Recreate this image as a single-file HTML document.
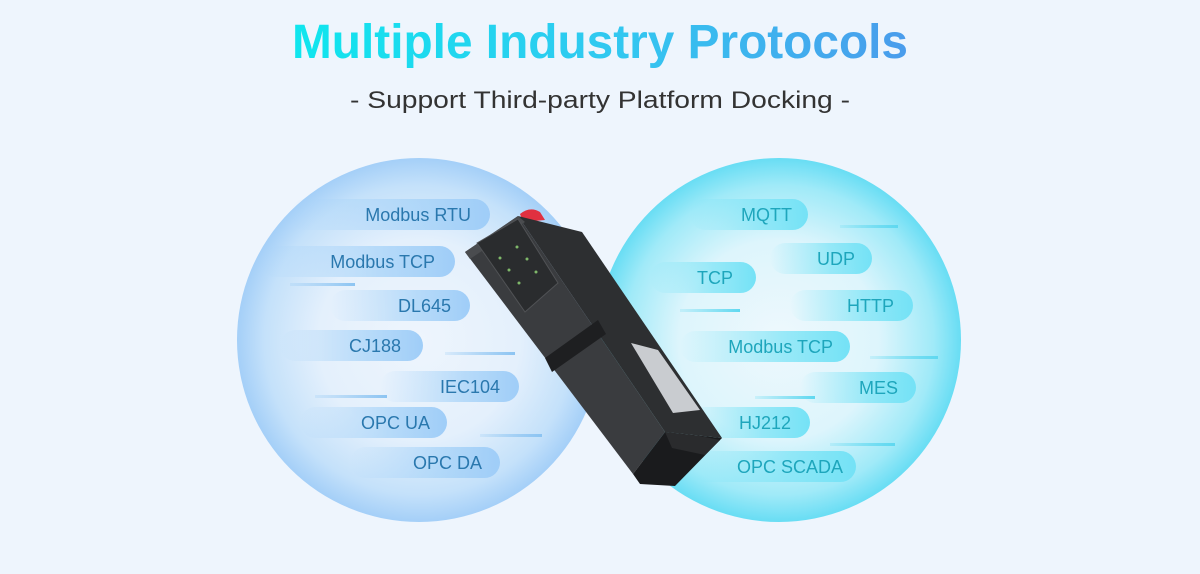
<!DOCTYPE html>
<html><head><meta charset="utf-8"><style>
html,body{margin:0;padding:0;background:#eef5fd;}
svg{display:block;font-family:"Liberation Sans",sans-serif;}
</style></head><body>
<svg width="1200" height="574" viewBox="0 0 1200 574" xmlns="http://www.w3.org/2000/svg">
<defs>
<linearGradient id="tg" x1="0" x2="1"><stop offset="0" stop-color="#0fe6ee"/><stop offset="0.55" stop-color="#33c6f0"/><stop offset="1" stop-color="#4a9cec"/></linearGradient>
<radialGradient id="lc" cx="0.5" cy="0.5" r="0.5"><stop offset="0" stop-color="#eef5fd"/><stop offset="0.55" stop-color="#e4f0fc"/><stop offset="0.85" stop-color="#c4e1fa"/><stop offset="1" stop-color="#a4cff8"/></radialGradient>
<radialGradient id="rc" cx="0.5" cy="0.5" r="0.5"><stop offset="0" stop-color="#eef8fd"/><stop offset="0.55" stop-color="#ddf5fc"/><stop offset="0.85" stop-color="#a0eaf8"/><stop offset="1" stop-color="#68ddf4"/></radialGradient>
<linearGradient id="lp" x1="0" x2="1"><stop offset="0" stop-color="#a7d3f8" stop-opacity="0"/><stop offset="0.6" stop-color="#a7d3f8" stop-opacity="0.75"/><stop offset="1" stop-color="#9fcdf8"/></linearGradient>
<linearGradient id="rp" x1="0" x2="1"><stop offset="0" stop-color="#7ee4f6" stop-opacity="0"/><stop offset="0.6" stop-color="#7ee4f6" stop-opacity="0.75"/><stop offset="1" stop-color="#74e2f6"/></linearGradient>
<linearGradient id="ll" x1="0" x2="1"><stop offset="0" stop-color="#8cc4f2" stop-opacity="0.2"/><stop offset="1" stop-color="#8cc4f2"/></linearGradient>
<linearGradient id="rl" x1="0" x2="1"><stop offset="0" stop-color="#5fd8f0" stop-opacity="0.2"/><stop offset="1" stop-color="#5fd8f0"/></linearGradient>
</defs>
<text x="600" y="58" text-anchor="middle" font-size="48" font-weight="bold" fill="url(#tg)" textLength="616" lengthAdjust="spacingAndGlyphs">Multiple Industry Protocols</text>
<text x="600" y="108" text-anchor="middle" font-size="24" fill="#333" textLength="500" lengthAdjust="spacingAndGlyphs">-  Support Third-party Platform Docking  -</text>
<circle cx="419" cy="340" r="182" fill="url(#lc)"/>
<circle cx="779" cy="340" r="182" fill="url(#rc)"/>
<g font-size="18" fill="#2a78ae" text-anchor="end">
<rect x="290" y="199" width="200" height="31" rx="15.5" fill="url(#lp)"/><text x="471" y="221">Modbus RTU</text>
<rect x="260" y="246" width="195" height="31" rx="15.5" fill="url(#lp)"/><text x="435" y="268">Modbus TCP</text>
<rect x="290" y="283" width="65" height="3" fill="url(#ll)"/>
<rect x="330" y="290" width="140" height="31" rx="15.5" fill="url(#lp)"/><text x="451" y="312">DL645</text>
<rect x="280" y="330" width="143" height="31" rx="15.5" fill="url(#lp)"/><text x="401" y="352">CJ188</text>
<rect x="445" y="352" width="70" height="3" fill="url(#ll)"/>
<rect x="380" y="371" width="139" height="31" rx="15.5" fill="url(#lp)"/><text x="500" y="393">IEC104</text>
<rect x="315" y="395" width="72" height="3" fill="url(#ll)"/>
<rect x="300" y="407" width="147" height="31" rx="15.5" fill="url(#lp)"/><text x="430" y="429">OPC UA</text>
<rect x="480" y="434" width="62" height="3" fill="url(#ll)"/>
<rect x="350" y="447" width="150" height="31" rx="15.5" fill="url(#lp)"/><text x="482" y="469">OPC DA</text>
</g>
<g font-size="18" fill="#1ea6bc" text-anchor="end">
<rect x="690" y="199" width="118" height="31" rx="15.5" fill="url(#rp)"/><text x="792" y="221">MQTT</text>
<rect x="840" y="225" width="58" height="3" fill="url(#rl)"/>
<rect x="770" y="243" width="102" height="31" rx="15.5" fill="url(#rp)"/><text x="855" y="265">UDP</text>
<rect x="650" y="262" width="106" height="31" rx="15.5" fill="url(#rp)"/><text x="733" y="284">TCP</text>
<rect x="680" y="309" width="60" height="3" fill="url(#rl)"/>
<rect x="790" y="290" width="123" height="31" rx="15.5" fill="url(#rp)"/><text x="894" y="312">HTTP</text>
<rect x="680" y="331" width="170" height="31" rx="15.5" fill="url(#rp)"/><text x="833" y="353">Modbus TCP</text>
<rect x="870" y="356" width="68" height="3" fill="url(#rl)"/>
<rect x="800" y="372" width="116" height="31" rx="15.5" fill="url(#rp)"/><text x="898" y="394">MES</text>
<rect x="755" y="396" width="60" height="3" fill="url(#rl)"/>
<rect x="690" y="407" width="120" height="31" rx="15.5" fill="url(#rp)"/><text x="791" y="429">HJ212</text>
<rect x="830" y="443" width="65" height="3" fill="url(#rl)"/>
<rect x="690" y="451" width="166" height="31" rx="15.5" fill="url(#rp)"/><text x="843" y="473">OPC SCADA</text>
</g>
<g>
<path d="M520 214 q10 -8 20 -2 l5 8 -22 2z" fill="#e03040"/>
<polygon points="518,216 582,232 722,438 665,432" fill="#2d2f31"/>
<polygon points="465,252 518,216 665,432 633,474" fill="#3a3c3f"/>
<polygon points="465,252 518,216 525,222 470,259" fill="#4a4c4f"/>
<polygon points="477,243 518,219 558,283 525,312" fill="#2a2c2e" stroke="#505255" stroke-width="1"/>
<polygon points="545,358 598,320 606,334 552,372" fill="#1e1f21"/>
<polygon points="631,343 658,350 700,410 673,413" fill="#c9ccd0"/>
<polygon points="633,474 665,432 722,438 675,486 640,484" fill="#1a1b1d"/>
<polygon points="665,432 700,436 720,440 705,455 672,448" fill="#2a2b2d"/>
<g fill="#7fb86a"><circle cx="500" cy="258" r="1.5"/><circle cx="517" cy="247" r="1.5"/><circle cx="509" cy="270" r="1.5"/><circle cx="527" cy="259" r="1.5"/><circle cx="519" cy="283" r="1.5"/><circle cx="536" cy="272" r="1.5"/></g>
</g>
</svg>
</body></html>
